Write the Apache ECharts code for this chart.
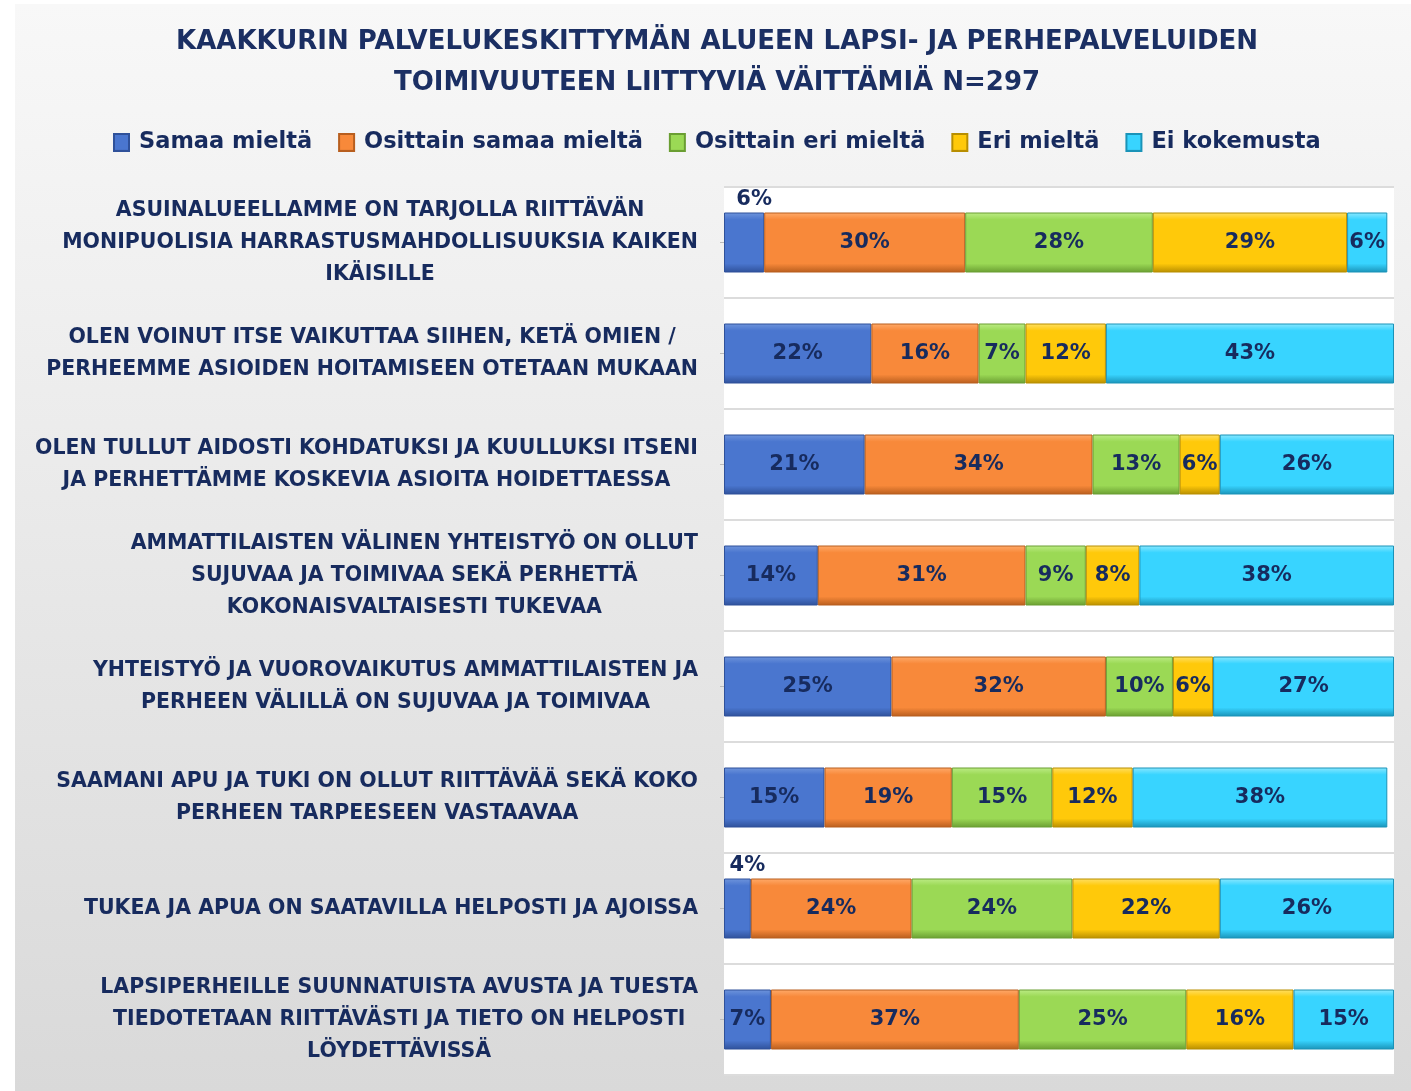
<!DOCTYPE html>
<html>
<head>
<meta charset="utf-8">
<script src="https://cdn.jsdelivr.net/npm/echarts@6/dist/echarts.min.js"></script>
<style>
  html, body { margin: 0; padding: 0; background: #fff; }
  #chart { width: 1411px; height: 1091px; }
</style>
</head>
<body>
<div id="chart"></div>
<script>
const categories = [
  'ASUINALUEELLAMME ON TARJOLLA RIITTÄVÄN\nMONIPUOLISIA HARRASTUSMAHDOLLISUUKSIA KAIKEN\nIKÄISILLE',
  'OLEN VOINUT ITSE VAIKUTTAA SIIHEN, KETÄ OMIEN /\nPERHEEMME ASIOIDEN HOITAMISEEN OTETAAN MUKAAN',
  'OLEN TULLUT AIDOSTI KOHDATUKSI JA KUULLUKSI ITSENI\nJA PERHETTÄMME KOSKEVIA ASIOITA HOIDETTAESSA',
  'AMMATTILAISTEN VÄLINEN YHTEISTYÖ ON OLLUT\nSUJUVAA JA TOIMIVAA SEKÄ PERHETTÄ\nKOKONAISVALTAISESTI TUKEVAA',
  'YHTEISTYÖ JA VUOROVAIKUTUS AMMATTILAISTEN JA\nPERHEEN VÄLILLÄ ON SUJUVAA JA TOIMIVAA',
  'SAAMANI APU JA TUKI ON OLLUT RIITTÄVÄÄ SEKÄ KOKO\nPERHEEN TARPEESEEN VASTAAVAA',
  'TUKEA JA APUA ON SAATAVILLA HELPOSTI JA AJOISSA',
  'LAPSIPERHEILLE SUUNNATUISTA AVUSTA JA TUESTA\nTIEDOTETAAN RIITTÄVÄSTI JA TIETO ON HELPOSTI\nLÖYDETTÄVISSÄ'
]

const seriesNames = ['Samaa mieltä', 'Osittain samaa mieltä', 'Osittain eri mieltä', 'Eri mieltä', 'Ei kokemusta']

const samaa        = [6, 22, 21, 14, 25, 15, 4, 7]
const osSamaa      = [30, 16, 34, 31, 32, 19, 24, 37]
const osEri        = [28, 7, 13, 9, 10, 15, 24, 25]
const eri          = [29, 12, 6, 8, 6, 12, 22, 16]
const eiKokemusta  = [6, 43, 26, 38, 27, 38, 26, 15]

// labels drawn above the bar instead of inside: [series, row]
const labelsAbove = [[0, 0], [0, 6]]

const colors = [
  ['#6f95dc', '#4a76cf', '#2f519a'],
  ['#ffab6b', '#f8893a', '#b85e1e'],
  ['#bdec86', '#9bd955', '#6a9e32'],
  ['#ffe066', '#ffc90a', '#b88e00'],
  ['#8ce8ff', '#38d4ff', '#1a93b8']
]

const allValues = [samaa, osSamaa, osEri, eri, eiKokemusta]
const textColor = '#172b5e'
const font = 'DejaVu Sans'

const series = allValues.map((vals, si) => ({
  name: seriesNames[si],
  type: 'bar',
  stack: 'total',
  barWidth: 60,
  itemStyle: {
    color: new echarts.graphic.LinearGradient(0, 0, 0, 1, [
      { offset: 0, color: colors[si][0] },
      { offset: 0.12, color: colors[si][1] },
      { offset: 0.85, color: colors[si][1] },
      { offset: 1, color: colors[si][2] }
    ]),
    borderColor: colors[si][2],
    borderWidth: 1
  },
  label: {
    show: true,
    position: 'inside',
    formatter: '{c}%',
    color: textColor,
    fontFamily: font,
    fontWeight: 'bold',
    fontSize: 21
  },
  data: vals.map((v, ri) => {
    const above = labelsAbove.some(p => p[0] === si && p[1] === ri)
    if (!above) return v
    return { value: v, label: { position: 'top', distance: 2, offset: [10, 0] } }
  })
}))

const chart = echarts.init(document.getElementById('chart'))
chart.setOption({
  backgroundColor: '#fff',
  animation: false,
  graphic: [{
    type: 'rect',
    z: -10,
    shape: { x: 15, y: 4, width: 1396, height: 1087 },
    style: {
      fill: new echarts.graphic.LinearGradient(0, 0, 0, 1, [
        { offset: 0, color: '#f8f8f8' },
        { offset: 1, color: '#d9d9d9' }
      ])
    }
  }],
  title: {
    text: 'KAAKKURIN PALVELUKESKITTYMÄN ALUEEN LAPSI- JA PERHEPALVELUIDEN\nTOIMIVUUTEEN LIITTYVIÄ VÄITTÄMIÄ N=297',
    left: 712,
    textAlign: 'center',
    top: 17,
    textStyle: {
      fontFamily: font,
      fontWeight: 'bold',
      fontSize: 26,
      lineHeight: 41,
      color: '#1b2f63'
    }
  },
  legend: {
    top: 126,
    left: 108,
    icon: 'rect',
    itemWidth: 15,
    itemHeight: 17,
    itemGap: 26,
    textStyle: {
      fontFamily: font,
      fontWeight: 'bold',
      fontSize: 22.5,
      color: textColor,
      padding: [0, 0, 0, 5]
    },
    data: seriesNames
  },
  grid: {
    left: 724,
    right: 17,
    top: 187,
    bottom: 16,
    show: true,
    backgroundColor: '#fff',
    borderWidth: 0
  },
  xAxis: {
    type: 'value',
    min: 0,
    max: 100,
    show: false
  },
  yAxis: {
    type: 'category',
    inverse: true,
    data: categories,
    axisLine: { show: false },
    axisTick: { show: true, alignWithLabel: true, length: 4, lineStyle: { color: '#bbb' } },
    splitLine: { show: true, lineStyle: { color: '#dcdcdc', width: 2 } },
    axisLabel: {
      margin: 26,
      align: 'right',
      formatter: v => v.split('\n').map(l => '{c|' + l + '}').join('\n'),
      rich: {
        c: {
          align: 'center',
          fontFamily: font,
          fontWeight: 'bold',
          fontSize: 20.5,
          lineHeight: 32,
          color: textColor
        }
      }
    }
  },
  series: series
})
</script>
</body>
</html>
